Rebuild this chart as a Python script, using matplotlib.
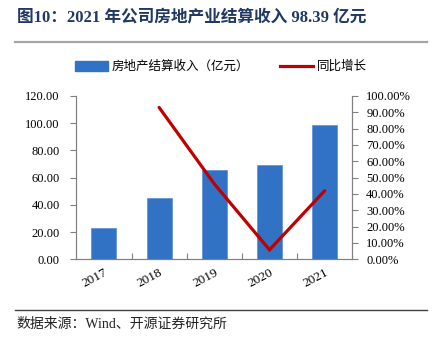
import numpy as np
import matplotlib.pyplot as plt
from matplotlib.patches import Patch
from matplotlib.lines import Line2D

plt.rcParams['font.family'] = ['Liberation Serif', 'Noto Sans CJK SC']

# 数据
years = ['2017', '2018', '2019', '2020', '2021']
revenue = [23.3, 44.8, 65.5, 69.3, 98.39]        # 房地产结算收入（亿元）
growth_years = ['2018', '2019', '2020', '2021']
growth = [0.93, 0.462, 0.058, 0.42]                # 同比增长

bar_color = '#3172C4'
line_color = '#C00000'
axis_gray = '#808080'

fig = plt.figure(figsize=(4.32, 3.38), dpi=100)

# 标题与分隔线
fig.text(17 / 432, 1 - 18 / 338, '图10：2021 年公司房地产业结算收入 98.39 亿元',
         fontsize=12, fontweight='bold', color='#1F3864', va='center', ha='left')
fig.add_artist(Line2D([15 / 432, 427 / 432], [1 - 42 / 338, 1 - 42 / 338],
                      color='#A6A6A6', lw=1.6))

ax = fig.add_axes([76.3 / 432, 1 - 259.3 / 338, 276 / 432, 163.3 / 338])
x = np.arange(len(years)) + 0.5
ax.bar(x, revenue, width=0.45, color=bar_color, edgecolor='#5B8FD6', linewidth=0.5, zorder=2)
ax.set_xlim(0, 5)
ax.set_ylim(0, 120)
ax.set_yticks(np.arange(0, 121, 20))
ax.set_yticklabels([f'{v:.2f}' for v in np.arange(0, 121, 20)], fontsize=9)

# 横轴：刻度在类别之间，标签斜放
ax.set_xticks([1, 2, 3, 4])
ax.set_xticklabels([])
ax.tick_params(axis='x', direction='in', length=4, color=axis_gray)
ax.set_xticks(x, minor=True)
ax.set_xticklabels(years, minor=True, rotation=28, fontsize=9.5,
                   ha='right', rotation_mode='anchor')
ax.tick_params(axis='x', which='minor', length=0, pad=5)
ax.tick_params(axis='y', direction='out', length=4, color=axis_gray, pad=8)

ax.spines['top'].set_visible(False)
for s in ['left', 'bottom', 'right']:
    ax.spines[s].set_color(axis_gray)

ax2 = ax.twinx()
gx = [x[years.index(y)] for y in growth_years]
ax2.plot(gx, growth, color=line_color, lw=2.3, solid_capstyle='round',
         solid_joinstyle='miter', zorder=3)
ax2.set_ylim(0, 1)
ax2.set_yticks(np.arange(0, 1.01, 0.1))
ax2.set_yticklabels([f'{v * 100:.2f}%' for v in np.arange(0, 1.01, 0.1)], fontsize=9)
ax2.tick_params(axis='y', direction='out', length=4, color=axis_gray, pad=6)
ax2.spines['top'].set_visible(False)
for s in ['left', 'bottom', 'right']:
    ax2.spines[s].set_color(axis_gray)

# 图例
handles = [Patch(facecolor=bar_color, edgecolor=bar_color),
           Line2D([0], [0], color=line_color, lw=2.3)]
fig.legend(handles, ['房地产结算收入（亿元）', '同比增长'],
           loc='center', bbox_to_anchor=(221 / 432, 1 - 67 / 338), ncol=2,
           frameon=False, fontsize=9, handlelength=2.6, handleheight=0.8,
           handletextpad=0.3, columnspacing=2.5)

# 数据来源
fig.add_artist(Line2D([15 / 432, 427 / 432], [1 - 310 / 338, 1 - 310 / 338],
                      color='#404040', lw=1))
fig.text(16 / 432, 1 - 324 / 338, '数据来源：Wind、开源证券研究所',
         fontsize=10, va='center', ha='left', color='#222222')

fig.savefig('out.png', dpi=100)
